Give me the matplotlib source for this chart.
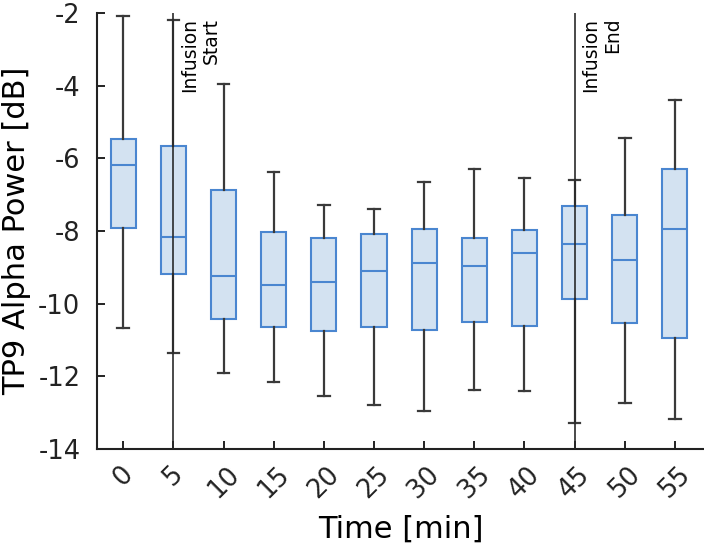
import matplotlib

matplotlib.use("Agg")
import matplotlib.pyplot as plt

# Box statistics (dB)
times = [0, 5, 10, 15, 20, 25, 30, 35, 40, 45, 50, 55]
whislo = [-10.68, -11.36, -11.90, -12.14, -12.54, -12.79, -12.94, -12.36, -12.40, -13.28, -12.74, -13.16]
q1 = [-7.92, -9.18, -10.41, -10.65, -10.75, -10.64, -10.73, -10.49, -10.60, -9.88, -10.52, -10.95]
med = [-6.18, -8.16, -9.23, -9.49, -9.41, -9.11, -8.89, -8.95, -8.61, -8.35, -8.80, -7.95]
q3 = [-5.47, -5.66, -6.86, -8.03, -8.18, -8.08, -7.93, -8.19, -7.96, -7.32, -7.55, -6.29]
whishi = [-2.08, -2.19, -3.95, -6.36, -7.28, -7.39, -6.66, -6.28, -6.55, -6.60, -5.45, -4.39]

events = [(5, "Infusion\nStart"), (45, "Infusion\nEnd")]

plt.rcParams["font.family"] = "DejaVu Sans"

stats = [
    {"whislo": lo, "q1": a, "med": m, "q3": b, "whishi": hi, "fliers": []}
    for lo, a, m, b, hi in zip(whislo, q1, med, q3, whishi)
]

fig = plt.figure(figsize=(7.04, 5.49), dpi=100)
ax = fig.add_axes([0.138, 0.182, 0.862, 0.794])

pos = list(range(len(times)))
edge = "#4a86d0"
ax.bxp(
    stats,
    positions=pos,
    widths=0.5,
    capwidths=0.23,
    patch_artist=True,
    showfliers=False,
    boxprops=dict(facecolor="#d3e2f1", edgecolor=edge, linewidth=1.5),
    medianprops=dict(color=edge, linewidth=1.5),
    whiskerprops=dict(color="#3a3a3a", linewidth=1.6),
    capprops=dict(color="#3a3a3a", linewidth=1.6),
)

for t, label in events:
    i = times.index(t)
    ax.axvline(i, color="#2a2a2a", linewidth=1.4, alpha=0.85, zorder=3)
    ax.text(i + 0.13, -2.12, label, rotation=90, ha="left", va="top",
            multialignment="right", fontsize=13.5)

ax.set_xlim(-0.52, 11.58)
ax.set_ylim(-14, -2)
ax.set_yticks(range(-14, -1, 2))
ax.set_yticklabels([str(v) for v in range(-14, -1, 2)])
ax.set_xticks(pos)
ax.set_xticklabels([str(t) for t in times], rotation=45, ha="center")
ax.tick_params(direction="in", length=6, width=1.4, labelsize=18.5, colors="#222222")
ax.tick_params(axis="y", pad=12)
ax.tick_params(axis="x", pad=9)

for side in ["top", "right"]:
    ax.spines[side].set_visible(False)
for side in ["left", "bottom"]:
    ax.spines[side].set_linewidth(1.5)
    ax.spines[side].set_color("#222222")

ax.set_xlabel("Time [min]", fontsize=22, labelpad=8)
ax.set_ylabel("TP9 Alpha Power [dB]", fontsize=22, labelpad=5)

fig.savefig("out.png", dpi=100)
